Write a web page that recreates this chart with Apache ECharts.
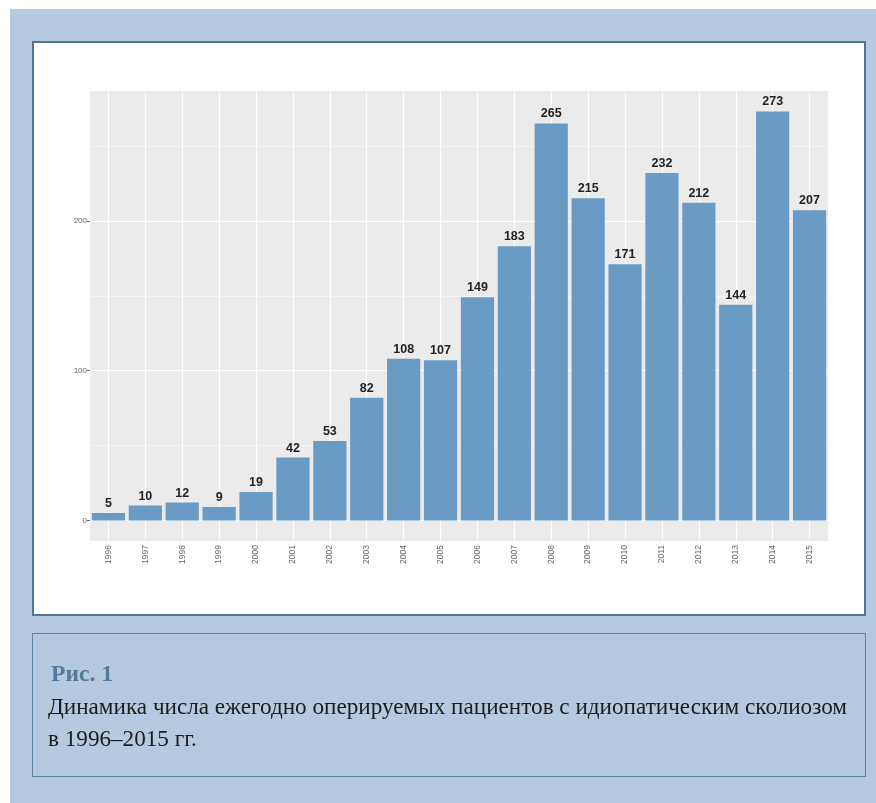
<!DOCTYPE html>
<html>
<head>
<meta charset="utf-8">
<script src="https://cdn.jsdelivr.net/npm/echarts@6/dist/echarts.min.js"></script>
<style>
  html, body { margin: 0; padding: 0; background: #ffffff; }
  #page { position: relative; width: 876px; height: 803px; overflow: hidden; }
  .bg { position: absolute; left: 10px; top: 9px; right: 0; bottom: 0; background: #b7c9de; }
  .panel { position: absolute; left: 32px; top: 41px; width: 834px; height: 575px;
           box-sizing: border-box; background: #ffffff; border: 2px solid #4d7594; }
  .capbox { position: absolute; left: 32px; top: 633px; width: 834px; height: 144px;
            box-sizing: border-box; border: 1px solid #5e83a1; }
  #chart { position: absolute; left: 0; top: 0; width: 876px; height: 803px; z-index: 2; }
  .cap { position: absolute; z-index: 3; white-space: nowrap; font-family: "Liberation Serif", "DejaVu Serif", serif;
         font-size: 24px; line-height: 24px; transform-origin: 0 0; }
  #fig { color: #527b99; font-weight: bold; }
  .txt { color: #1c1c1c; }
</style>
</head>
<body>
<div id="page">
  <div class="bg"></div>
  <div class="panel"></div>
  <div class="capbox"></div>
  <div id="chart"></div>
  <div id="fig" class="cap">Рис. 1</div>
  <div id="line1" class="cap txt">Динамика числа ежегодно оперируемых пациентов с идиопатическим сколиозом</div>
  <div id="line2" class="cap txt">в 1996–2015 гг.</div>
</div>
<script>
// Patients operated on per year
const years = ['1996','1997','1998','1999','2000','2001','2002','2003','2004','2005',
               '2006','2007','2008','2009','2010','2011','2012','2013','2014','2015'];
const patients = [5, 10, 12, 9, 19, 42, 53, 82, 108, 107,
                  149, 183, 265, 215, 171, 232, 212, 144, 273, 207];
const yTicks = [0, 100, 200];
const yMinorLines = [50, 150, 250];

// y range padded by 5% of the data span on both ends
const yMax = Math.max(...patients);
const pad = yMax * 0.05;

const gridLines = []
  .concat(years.map(y => ({ xAxis: y, lineStyle: { width: 1.1 } })))
  .concat(yTicks.map(v => ({ yAxis: v, lineStyle: { width: 1.1 } })))
  .concat(yMinorLines.map(v => ({ yAxis: v, lineStyle: { width: 0.5 } })));

const chart = echarts.init(document.getElementById('chart'), null, { renderer: 'canvas' });
chart.setOption({
  backgroundColor: 'transparent',
  animation: false,
  grid: {
    left: 90, right: 48, top: 91, bottom: 262,
    show: true, backgroundColor: '#ebebeb', borderWidth: 0
  },
  xAxis: {
    type: 'category',
    data: years,
    axisLine: { show: false },
    axisTick: { show: true, alignWithLabel: true, length: 3, lineStyle: { color: '#666', width: 1 } },
    axisLabel: { rotate: 90, fontSize: 8.5, color: '#666', margin: 4, fontFamily: 'Liberation Sans' },
    splitLine: { show: false }
  },
  yAxis: {
    type: 'value',
    min: -pad, max: yMax + pad,
    axisLine: { show: false },
    axisTick: { show: true, length: 3, customValues: yTicks, lineStyle: { color: '#666', width: 1 } },
    axisLabel: { fontSize: 8, color: '#666', margin: 3, customValues: yTicks, fontFamily: 'Liberation Sans' },
    splitLine: { show: false }
  },
  series: [
    {
      type: 'line',
      z: 1,
      silent: true,
      data: years.map(() => null),
      markLine: {
        z: 1,
        silent: true,
        symbol: ['none', 'none'],
        label: { show: false },
        lineStyle: { color: '#ffffff', type: 'solid', width: 1 },
        data: gridLines
      }
    },
    {
      type: 'bar',
      z: 3,
      data: patients,
      barWidth: '90%',
      itemStyle: { color: '#6a9bc5' },
      label: {
        show: true, position: 'top', distance: 3,
        fontFamily: 'Liberation Sans', fontWeight: 'bold', fontSize: 12.5, color: '#222'
      }
    }
  ]
});

// Caption lines: place by baseline and fit to their widths
function place(id, left, baseline, width) {
  const el = document.getElementById(id);
  // Liberation Serif: ascent 0.891, descent 0.216 of the em box
  const fs = 24, asc = 0.891 * fs, desc = 0.216 * fs;
  const top = baseline - ((fs - (asc + desc)) / 2 + asc);
  el.style.left = left + 'px';
  el.style.top = top + 'px';
  const w = el.getBoundingClientRect().width;
  const s = width / w;
  el.style.transform = 'scaleX(' + s + ')';
  return s;
}
place('fig', 51, 681, 62);
const s1 = place('line1', 48, 714, 799);
const l2 = document.getElementById('line2');
place('line2', 48, 746, 1);
l2.style.transform = 'scaleX(' + s1 + ')';
</script>
</body>
</html>
